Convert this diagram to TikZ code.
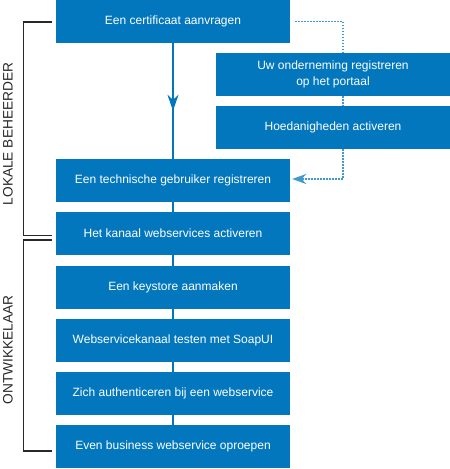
\documentclass[tikz,border=0pt]{standalone}
\usepackage{fontspec}
\setmainfont{Liberation Sans}
\usetikzlibrary{arrows.meta,decorations.markings}
\definecolor{boxblue}{RGB}{2,119,189}
\definecolor{brk}{RGB}{40,40,40}
\tikzset{
  stepbox/.style={fill=boxblue, draw=none, text=white, minimum width=234pt, minimum height=43pt,
    inner sep=0pt, align=center, font=\fontsize{12pt}{16pt}\selectfont},
  solidline/.style={draw=boxblue, line width=1.6pt},
  dotline/.style={draw=boxblue!75, line width=1.6pt, dash pattern=on 1.6pt off 1.4pt},
  brace/.style={draw=brk, line width=1.2pt},
  rolelabel/.style={rotate=90, text=brk, font=\fontsize{13.7pt}{16pt}\selectfont, inner sep=0pt}
}
\begin{document}
\begin{tikzpicture}[x=1pt,y=-1pt]
\useasboundingbox (0,0) rectangle (450,469);
\node[stepbox] (b1) at (173,21.5) {Een certificaat aanvragen};
\node[stepbox] (b2) at (333,74.5) {Uw onderneming registreren\\op het portaal};
\node[stepbox] (b3) at (333,127.5) {Hoedanigheden activeren};
\node[stepbox] (b4) at (173,180.5) {Een technische gebruiker registreren};
\node[stepbox] (b5) at (173,233.5) {Het kanaal webservices activeren};
\node[stepbox] (b6) at (173,287.5) {Een keystore aanmaken};
\node[stepbox] (b7) at (173,340.5) {Webservicekanaal testen met SoapUI};
\node[stepbox] (b8) at (173,393.5) {Zich authenticeren bij een webservice};
\node[stepbox] (b9) at (173,446.5) {Even business webservice oproepen};
% main arrow
\draw[solidline, postaction={decorate}, decoration={markings,
  mark=at position 0.585 with {\arrow{Stealth[length=16pt,width=11pt,inset=5pt]}}}]
  (b1.south) -- (b4.north);
\draw[solidline] (b4.south) -- (b5.north);
\draw[solidline] (b5.south) -- (b6.north);
\draw[solidline] (b6.south) -- (b7.north);
\draw[solidline] (b7.south) -- (b8.north);
\draw[solidline] (b8.south) -- (b9.north);
% dotted side path
\coordinate (dx) at (343,0);
\draw[dotline] ([xshift=5pt]b1.east) -| (b2.north -| dx);
\draw[dotline] (b2.south -| dx) -- (b3.north -| dx);
\draw[dotline, -{Stealth[length=14pt,width=10pt,inset=4.5pt]}] (b3.south -| dx) |- ([xshift=2pt,yshift=1.5pt]b4.east);
% brackets
\coordinate (k1a) at (52,22);
\coordinate (k1b) at (52,235.5);
\coordinate (k2a) at (52,240);
\coordinate (k2b) at (52,451);
\draw[brace] (k1a) -- (23.5,22) -- (23.5,235.5) -- (k1b);
\draw[brace] (k2a) -- (23.5,240) -- (23.5,451) -- (k2b);
\node[rolelabel] (l1) at (8,134) {LOKALE BEHEERDER};
\node[rolelabel] (l2) at (8,350) {ONTWIKKELAAR};
\end{tikzpicture}
\end{document}
